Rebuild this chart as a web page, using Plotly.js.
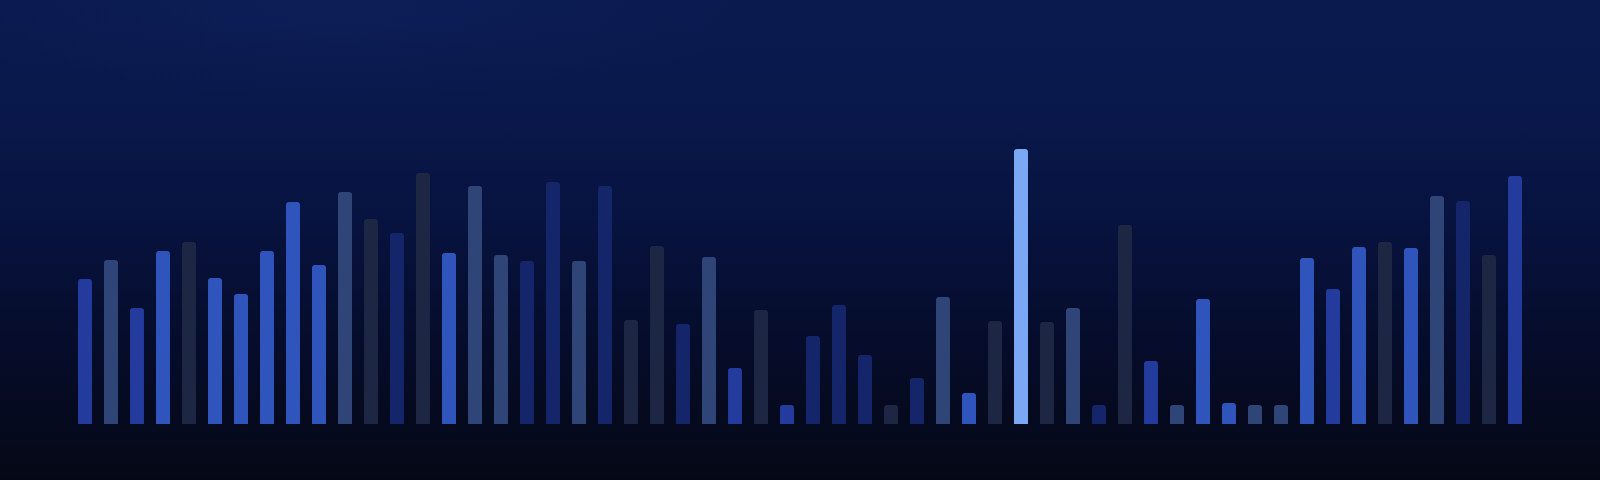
<!DOCTYPE html>
<html>
<head>
<meta charset="utf-8">
<script src="https://cdn.plot.ly/plotly-3.0.1.min.js"></script>
<style>
  html, body { margin: 0; padding: 0; width: 1600px; height: 480px; overflow: hidden; }
  body {
    background:
      radial-gradient(ellipse 420px 90px at 340px 10px, rgba(30,60,140,0.12), rgba(30,60,140,0) 100%),
      linear-gradient(to bottom, #0a1a4f 0%, #09184a 25%, #071340 45%, #060e30 65%, #050a20 85%, #040816 100%);
  }
  #chart { width: 1600px; height: 480px; }
</style>
</head>
<body>
<div id="chart"></div>
<script>
// Bar heights (one per bar, left to right)
const categories = Array.from({length: 56}, (_, i) => i + 1);
const values = [
  145, 164, 116, 173, 182, 146, 130, 173, 222, 159,
  232, 205, 191, 251, 171, 238, 169, 163, 242, 163,
  238, 104, 178, 100, 167, 56, 114, 19, 88, 119,
  69, 19, 46, 127, 31, 103, 275, 102, 116, 19,
  199, 63, 19, 125, 21, 19, 19, 166, 135, 177,
  182, 176, 228, 223, 169, 248
];
// tone of each bar
const tones = [
  'deep','slate','deep','bright','dark','bright','bright','bright','bright','bright',
  'slate','dark','navy','dark','bright','slate','slate','navy','navy','slate',
  'navy','dark','dark','navy','slate','deep','dark','deep','navy','navy',
  'navy','dark','navy','slate','bright','dark','light','dark','slate','navy',
  'dark','deep','slate','bright','bright','slate','slate','bright','deep','bright',
  'dark','bright','slate','navy','dark','deep'
];
const palette = {
  bright: '#2f55bd',
  deep:   '#223b9c',
  slate:  '#2f4577',
  dark:   '#1d2642',
  navy:   '#14256a',
  light:  '#7aa8f5'
};

const x = categories.map((c, i) => i);
const trace = {
  type: 'bar',
  x: x,
  y: values,
  width: 0.538,
  marker: {
    color: tones.map(t => palette[t]),
    cornerradius: 3,
    line: { width: 0 }
  },
  hoverinfo: 'skip'
};

const layout = {
  width: 1600,
  height: 480,
  margin: { l: 0, r: 0, t: 0, b: 0, pad: 0 },
  paper_bgcolor: 'rgba(0,0,0,0)',
  plot_bgcolor: 'rgba(0,0,0,0)',
  showlegend: false,
  xaxis: {
    range: [-85 / 26, -85 / 26 + 1600 / 26],
    showgrid: false, zeroline: false, showticklabels: false, showline: false, ticks: '',
    fixedrange: true
  },
  yaxis: {
    range: [-56, 424],
    showgrid: false, zeroline: false, showticklabels: false, showline: false, ticks: '',
    fixedrange: true
  }
};

Plotly.newPlot('chart', [trace], layout, { displayModeBar: false, staticPlot: true });
</script>
</body>
</html>
